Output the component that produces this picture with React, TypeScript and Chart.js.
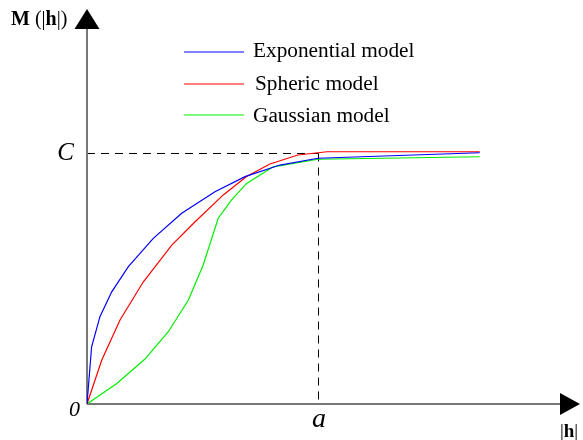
import React, { useEffect, useRef } from "react";
import { Chart, registerables } from "chart.js";

Chart.register(...registerables);

// lag |h| normalised to range a = 1, M normalised to sill C = 1
const expX = [0, 0.02, 0.056, 0.107, 0.179, 0.287, 0.41, 0.554, 0.684, 0.835, 1.0, 1.7];
const expY = [0, 0.228, 0.348, 0.447, 0.547, 0.66, 0.76, 0.846, 0.906, 0.952, 0.979, 1.001];

const sphX = [0, 0.064, 0.143, 0.244, 0.367, 0.468, 0.59, 0.691, 0.792, 0.913, 1.039, 1.7];
const sphY = [0, 0.175, 0.335, 0.487, 0.633, 0.726, 0.833, 0.906, 0.956, 0.992, 1.005, 1.005];

const gauX = [0, 0.129, 0.251, 0.352, 0.439, 0.503, 0.568, 0.626, 0.691, 0.806, 1.0, 1.7];
const gauY = [0, 0.082, 0.179, 0.288, 0.414, 0.554, 0.74, 0.813, 0.879, 0.945, 0.975, 0.985];

const seriesNames = ["Exponential model", "Spheric model", "Gaussian model"];
const seriesColors = ["#0000ff", "#ff0000", "#00ee00"];

const rangeA = 1;
const sillC = 1;

const toPts = (xs: number[], ys: number[]) => xs.map((x, i) => ({ x, y: ys[i] }));

const SERIF = "'Liberation Serif', 'DejaVu Serif', serif";

const overlayPlugin = {
  id: "overlay",
  beforeDatasetsDraw(chart: any) {
    const ctx = chart.ctx;
    const xs = chart.scales.x;
    const ys = chart.scales.y;
    const x0 = xs.getPixelForValue(0);
    const y0 = ys.getPixelForValue(0);
    const xa = Math.round(xs.getPixelForValue(rangeA)) + 0.5;
    const yc = Math.round(ys.getPixelForValue(sillC)) + 0.5;
    ctx.save();
    // dashed guides
    ctx.strokeStyle = "#000";
    ctx.lineWidth = 1;
    ctx.setLineDash([8, 6]);
    ctx.beginPath();
    ctx.moveTo(x0, yc);
    ctx.lineTo(xa, yc);
    ctx.moveTo(xa, yc);
    ctx.lineTo(xa, y0);
    ctx.stroke();
    ctx.setLineDash([]);
    // axes
    ctx.strokeStyle = "#777";
    ctx.lineWidth = 2;
    ctx.beginPath();
    ctx.moveTo(x0, y0);
    ctx.lineTo(x0, 28);
    ctx.moveTo(x0, y0);
    ctx.lineTo(562, y0);
    ctx.stroke();
    ctx.fillStyle = "#000";
    ctx.beginPath();
    ctx.moveTo(x0, 9);
    ctx.lineTo(x0 - 12.5, 29);
    ctx.lineTo(x0 + 12.5, 29);
    ctx.closePath();
    ctx.fill();
    ctx.beginPath();
    ctx.moveTo(580, y0);
    ctx.lineTo(560, y0 - 11);
    ctx.lineTo(560, y0 + 11);
    ctx.closePath();
    ctx.fill();
    ctx.restore();
  },
  afterDraw(chart: any) {
    const ctx = chart.ctx;
    const xs = chart.scales.x;
    const ys = chart.scales.y;
    const x0 = xs.getPixelForValue(0);
    const y0 = ys.getPixelForValue(0);
    const xa = xs.getPixelForValue(rangeA);
    const yc = ys.getPixelForValue(sillC);
    ctx.save();
    ctx.fillStyle = "#000";
    ctx.textBaseline = "alphabetic";
    // legend
    const legY = [52, 84, 115];
    const txtY = [57, 90, 122];
    seriesNames.forEach((name, i) => {
      ctx.strokeStyle = seriesColors[i];
      ctx.lineWidth = 1;
      ctx.beginPath();
      ctx.moveTo(184, legY[i]);
      ctx.lineTo(244, legY[i]);
      ctx.stroke();
      ctx.font = `21.3px ${SERIF}`;
      ctx.textAlign = "left";
      ctx.fillText(name, i === 1 ? 255 : 253, txtY[i]);
    });
    // axis labels
    ctx.textAlign = "left";
    const drawMixed = (parts: [string, boolean][], x: number, y: number, size: number) => {
      let cx = x;
      parts.forEach(([t, bold]) => {
        ctx.font = `${bold ? "bold " : ""}${size}px ${SERIF}`;
        ctx.fillText(t, cx, y);
        cx += ctx.measureText(t).width;
      });
    };
    drawMixed([["M", true], [" (|", false], ["h", true], ["|)", false]], 11, 25, 20);
    drawMixed([["|", false], ["h", true], ["|", false]], 560, 437, 19);
    ctx.font = `italic 25px ${SERIF}`;
    ctx.textAlign = "right";
    ctx.fillText("C", x0 - 13, yc + 7);
    ctx.font = `italic 22px ${SERIF}`;
    ctx.fillText("0", x0 - 7, y0 + 12);
    ctx.font = `italic 28px ${SERIF}`;
    ctx.textAlign = "center";
    ctx.fillText("a", xa + 1, y0 + 23);
    ctx.restore();
  },
};

export default function App() {
  const ref = useRef<HTMLCanvasElement | null>(null);
  useEffect(() => {
    if (!ref.current) return;
    const chart = new Chart(ref.current, {
      type: "scatter",
      data: {
        datasets: [
          { label: seriesNames[0], data: toPts(expX, expY) },
          { label: seriesNames[1], data: toPts(sphX, sphY) },
          { label: seriesNames[2], data: toPts(gauX, gauY) },
        ].map((d, i) => ({
          ...d,
          showLine: true,
          borderColor: seriesColors[i],
          backgroundColor: seriesColors[i],
          borderWidth: 1.2,
          pointRadius: 0,
          tension: 0,
          fill: false,
        })),
      },
      options: {
        responsive: false,
        animation: false,
        layout: { padding: { left: 87, right: 34, top: 27.5, bottom: 36 } },
        plugins: { legend: { display: false }, tooltip: { enabled: false } },
        scales: {
          x: { type: "linear", min: 0, max: 2, display: false },
          y: { type: "linear", min: 0, max: 1.5, display: false },
        },
      },
      plugins: [overlayPlugin],
    });
    return () => chart.destroy();
  }, []);
  return (
    <div style={{ position: "fixed", left: 0, top: 0, width: 583, height: 440, background: "#fff" }}>
      <canvas ref={ref} width={583} height={440} />
    </div>
  );
}
